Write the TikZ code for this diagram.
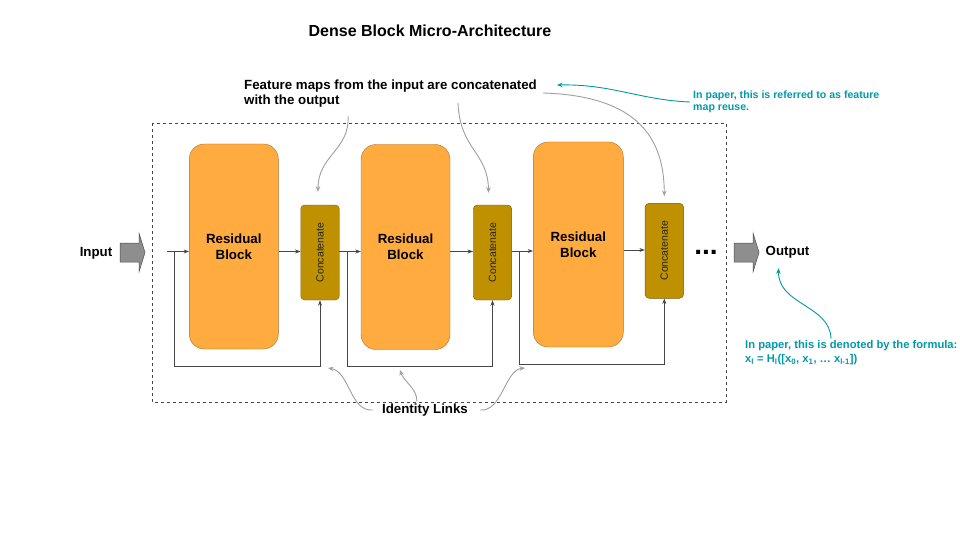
\documentclass[tikz,border=0pt]{standalone}
\usepackage{fontspec}
\setmainfont{Liberation Sans}
\usetikzlibrary{arrows,arrows.meta}
\definecolor{tangerine}{RGB}{255, 171, 64}
\definecolor{tangerinedark}{RGB}{170, 110, 40}
\definecolor{mustard}{RGB}{191, 144, 0}
\definecolor{mustarddark}{RGB}{120, 90, 0}
\definecolor{tealnote}{RGB}{0, 153, 168}
\definecolor{ashgray}{RGB}{158, 158, 158}
\definecolor{slategray}{RGB}{70, 70, 70}

\tikzset{
  resblock/.style={draw=tangerinedark, fill=tangerine, rounded corners=15pt, minimum width=89pt,
                   minimum height=205pt, inner sep=0pt, align=center,
                   font=\fontsize{13.3}{16}\selectfont\bfseries},
  catblock/.style={draw=mustarddark, fill=mustard, rounded corners=4pt, minimum width=38.5pt,
                   minimum height=95pt, inner sep=0pt, font=\fontsize{10.5}{12}\selectfont, text=black!85},
  label/.style={inner sep=2pt, font=\fontsize{13.3}{15}\selectfont\bfseries},
  tealtext/.style={inner sep=0pt, align=left, text=tealnote, font=\fontsize{10.6}{12.5}\selectfont\bfseries},
  flow/.style={-{Stealth[length=5.5pt, width=4pt]}, slategray, line width=0.8pt},
  remark/.style={-{Stealth[length=5.5pt, width=4.5pt]}, ashgray, line width=0.9pt},
  tealremark/.style={-{Stealth[length=5.5pt, width=4.5pt]}, tealnote, line width=0.9pt},
  fatarrow/.style={fill=ashgray!90!black, draw=gray!60!black, line width=0.5pt}
}

\begin{document}
\begin{tikzpicture}[x=1pt, y=-1pt]
            \useasboundingbox (0,0) rectangle (960,540);
            % title and notes
            \node[label, font=\fontsize{16}{18}\selectfont\bfseries] (title) at (430,31) {Dense Block Micro-Architecture};
            \node[label, anchor=west, align=left, inner sep=0pt] (featmaps) at (244,93.5)
                 {Feature maps from the input are concatenated\\with the output};
            \node[tealtext, anchor=west] (reuse) at (693,102) {In paper, this is referred to as feature\\map reuse.};
            \node[tealtext, anchor=west, font=\fontsize{11.2}{14}\selectfont\bfseries] (formula) at (745,353)
                 {In paper, this is denoted by the formula:\\x\textsubscript{l} = H\textsubscript{l}([x\textsubscript{0}, x\textsubscript{1}, \dots\ x\textsubscript{l-1}])};
            \node[label] (idlinks) at (425,410) {Identity Links};

            % dashed frame
            \draw[dashed, slategray, line width=0.7pt] (152,123) rectangle (726,402);

            % blocks
            \node[resblock] (res1) at (233.8,246.5) {Residual\\Block};
            \node[resblock] (res2) at (405.5,247)   {Residual\\Block};
            \node[resblock, minimum width=90pt] (res3) at (578.3,244.5) {Residual\\Block};
            \node[catblock] (con1) at (320,252.5)   {\rotatebox{90}{Concatenate}};
            \node[catblock] (con2) at (492.5,252.5) {\rotatebox{90}{Concatenate}};
            \node[catblock] (con3) at (664.3,250.8) {\rotatebox{90}{Concatenate}};

            % input and output
            \node[label] (input) at (96,253) {Input};
            \node[label] (output) at (787.5,252) {Output};
            \filldraw[fatarrow] (120,243) -- (139,243) -- (139,233) -- (145,252.5) -- (139,272) -- (139,262) -- (120,262) -- cycle;
            \filldraw[fatarrow] (734,243) -- (753,243) -- (753,233) -- (759,252.5) -- (753,272) -- (753,262) -- (734,262) -- cycle;
            \node[inner sep=0pt, font=\fontsize{28}{28}\selectfont\bfseries] (dots) at (706,252) {...};

            % main flow
            \coordinate (in)  at (167,251.5);
            \coordinate (jn1) at (174.5,251.5);
            \coordinate (jn2) at (347.3,251.5);
            \coordinate (jn3) at (519,251);
            \draw[flow] (in) -- (in -| res1.west);
            \draw[flow] (res1.east |- in) -- (con1.west |- in);
            \draw[flow] (con1.east |- in) -- (res2.west |- in);
            \draw[flow] (res2.east |- in) -- (con2.west |- in);
            \draw[flow] (con2.east |- jn3) -- (res3.west |- jn3);
            \draw[flow] (res3.east |- 0,250) -- (con3.west |- 0,250);

            % identity links
            \draw[flow] (jn1) -- (174.5,366) -| (con1.south);
            \draw[flow] (jn2) -- (347.3,366) -| (con2.south);
            \draw[flow] (jn3) -- (519,364) -| (con3.south);

            % remarks
            \draw[remark] (348,116) .. controls (350,150) and (318,155) .. ([xshift=-2pt, yshift=13pt]con1.north);
            \draw[remark] (458,103) .. controls (460,150) and (488,152) .. ([xshift=-4pt, yshift=12pt]con2.north);
            \draw[remark] (543,93) .. controls (640,96) and (664,140) .. ([yshift=7pt]con3.north);
            \draw[tealremark] ([xshift=-3pt]reuse.west) .. controls (640,100) and (612,84) .. (557,85);
            \draw[remark] ([xshift=-7pt]idlinks.west) .. controls (350,412) and (350,372) .. (328,368);
            \draw[remark] ([xshift=-8pt]idlinks.north) .. controls (417,388) and (404,382) .. (400,370);
            \draw[remark] ([xshift=10pt]idlinks.east) .. controls (502,412) and (505,370) .. (525,368);
            \draw[tealremark] ([xshift=86pt, yshift=2pt]formula.north west) .. controls (830,305) and (778,305)
                 .. ([xshift=-9pt, yshift=-8pt]output.south);
        \end{tikzpicture}
\end{document}
